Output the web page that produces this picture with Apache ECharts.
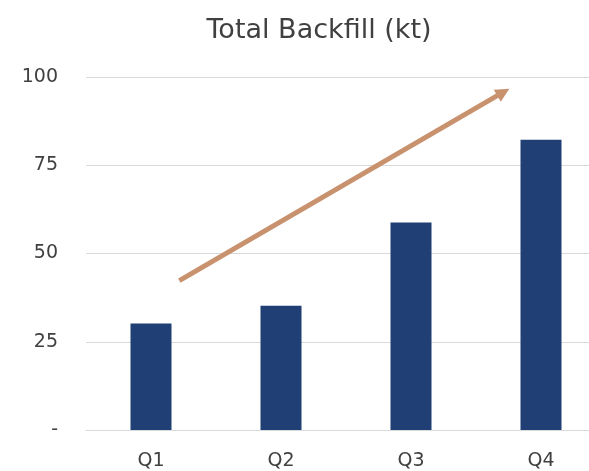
<!DOCTYPE html>
<html>
<head>
<meta charset="utf-8">
<script src="https://cdn.jsdelivr.net/npm/echarts@6/dist/echarts.min.js"></script>
<style>html,body{margin:0;padding:0;background:#fff}#c{width:589px;height:471px}</style>
</head>
<body>
<div id="c"></div>
<script>
const categories = ['Q1', 'Q2', 'Q3', 'Q4'];
const backfill = [30.2, 35.2, 58.8, 82.2];
const yTickLabels = {0: '-', 25: '25', 50: '50', 75: '75', 100: '100'};
// trend arrow: [category position, value]
const arrowStart = [0.218, 42.3];
const arrowEnd = [2.71, 95.7];

const chart = echarts.init(document.getElementById('c'), null, {renderer: 'canvas'});
const font = 'DejaVu Sans';
chart.setOption({
  backgroundColor: '#ffffff',
  animation: false,
  title: {
    text: 'Total Backfill (kt)',
    left: 314, top: 12, textAlign: 'center',
    textStyle: {fontFamily: font, fontSize: 27, fontWeight: 'normal', color: '#404040'}
  },
  grid: {left: 86, width: 520, top: 77, height: 353, containLabel: false, outerBoundsMode: 'none'},
  xAxis: [{
    type: 'category', data: categories,
    axisLine: {show: true, lineStyle: {color: '#D9D9D9', width: 1}},
    axisTick: {show: false},
    axisLabel: {fontFamily: font, fontSize: 19, color: '#404040', margin: 22}
  }, {
    type: 'value', min: -0.5, max: 3.5, show: false
  }],
  yAxis: {
    type: 'value', min: 0, max: 100, interval: 25,
    axisLine: {show: false}, axisTick: {show: false},
    splitLine: {lineStyle: {color: '#D9D9D9', width: 1}},
    axisLabel: {fontFamily: font, fontSize: 19, color: '#404040', margin: 28,
      formatter: v => yTickLabels[v] !== undefined ? yTickLabels[v] : String(v)}
  },
  series: [{
    type: 'bar', data: backfill, barWidth: 41,
    itemStyle: {color: '#1F3F75'}
  }, {
    type: 'line', xAxisIndex: 1, data: [], silent: true,
    markLine: {
      silent: true,
      symbol: ['none', 'triangle'], symbolSize: [14, 14],
      label: {show: false},
      lineStyle: {color: '#C9926E', width: 5, type: 'solid'},
      data: [[{coord: arrowStart}, {coord: arrowEnd}]]
    }
  }]
});
</script>
</body>
</html>
